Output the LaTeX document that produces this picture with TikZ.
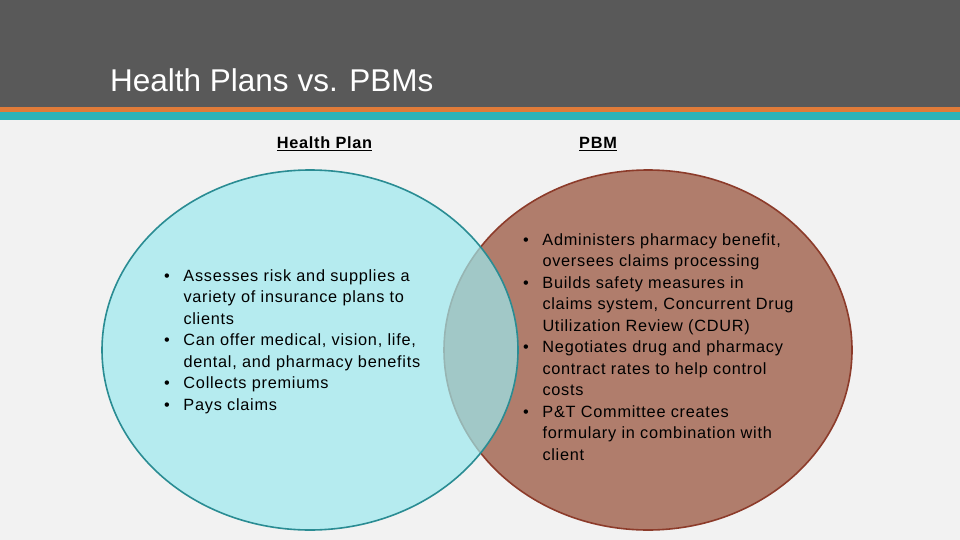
\documentclass[tikz,border=0pt]{standalone}
\usepackage{fontspec}
\setmainfont{Liberation Sans}
\newfontfamily\spreadfont[LetterSpace=4.5]{Liberation Sans}
\usetikzlibrary{shapes.geometric,positioning}

\definecolor{bargrey}{HTML}{595959}
\definecolor{barorange}{HTML}{E07B39}
\definecolor{barteal}{HTML}{2CB3B8}
\definecolor{pagebg}{HTML}{F2F2F2}
\definecolor{planfill}{RGB}{156,233,238}
\definecolor{planedge}{HTML}{2A8C93}
\definecolor{pbmfill}{HTML}{B07D6C}
\definecolor{pbmedge}{HTML}{8C3B2A}

\begin{document}
\begin{tikzpicture}[
    x=1pt, y=-1pt,
    heading/.style={font=\spreadfont\fontsize{16.3}{19}\selectfont\bfseries, text=black, inner sep=0pt},
    listbox/.style={font=\spreadfont\fontsize{16.3}{21.5}\selectfont, text=black, inner sep=0pt, align=left},
    blob/.style={ellipse, inner sep=0pt, line width=1.6pt}
  ]
  % page and header bars
  \fill[pagebg] (0,0) rectangle (960,540);
  \useasboundingbox (0,0) rectangle (960,540);
  \fill[bargrey] (0,0) rectangle (960,107.5);
  \fill[barorange] (0,107.5) rectangle (960,112.5);
  \fill[barteal] (0,112.5) rectangle (960,120.5);
  \node[anchor=base west, inner sep=0pt, text=white, font=\fontsize{31.5}{36}\selectfont]
    (title) at (110,92) {Health Plans vs. PBMs};

  % the two sets
  \node[blob, draw=pbmedge, fill=pbmfill, minimum width=408pt, minimum height=360pt]
    (pbm) at (648,350) {};
  \node[blob, draw=planedge, fill=planfill, fill opacity=0.7, minimum width=416pt, minimum height=360pt]
    (plan) at (310,350) {};

  % headings
  \node[heading, anchor=base] (planhead) at (324.5,149) {\underline{Health Plan}};
  \node[heading, anchor=base] (pbmhead) at (598,149) {\underline{PBM}};

  % lists
  \node[listbox, anchor=base west] (planlist) at (164,281) {%
    \begin{tabular}[t]{@{}p{19.3pt}@{}l@{}}
      \textbullet & Assesses risk and supplies a\\
                  & variety of insurance plans to\\
                  & clients\\
      \textbullet & Can offer medical, vision, life,\\
                  & dental, and pharmacy benefits\\
      \textbullet & Collects premiums\\
      \textbullet & Pays claims
    \end{tabular}};
  \node[listbox, anchor=base west] (pbmlist) at (523,245) {%
    \begin{tabular}[t]{@{}p{19.3pt}@{}l@{}}
      \textbullet & Administers pharmacy benefit,\\
                  & oversees claims processing\\
      \textbullet & Builds safety measures in\\
                  & claims system, Concurrent Drug\\
                  & Utilization Review (CDUR)\\
      \textbullet & Negotiates drug and pharmacy\\
                  & contract rates to help control\\
                  & costs\\
      \textbullet & P\&T Committee creates\\
                  & formulary in combination with\\
                  & client
    \end{tabular}};
\end{tikzpicture}
\end{document}
